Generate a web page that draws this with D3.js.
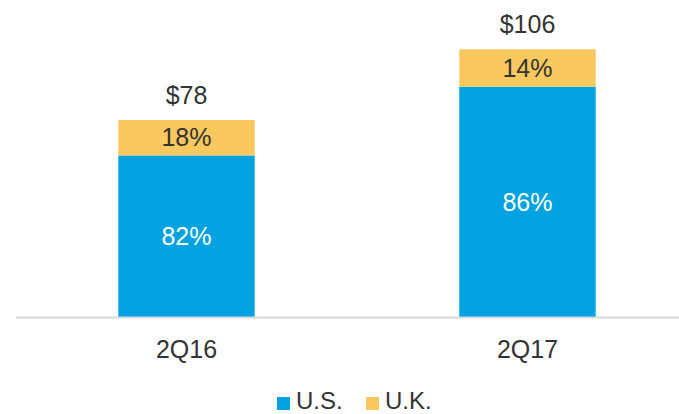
<!DOCTYPE html>
<html>
<head>
<meta charset="utf-8">
<script src="https://cdn.jsdelivr.net/npm/d3@7"></script>
<style>
  html, body { margin: 0; padding: 0; background: #fff; }
  svg { display: block; font-family: "Liberation Sans", Arial, sans-serif; }
</style>
</head>
<body>
<svg id="chart"></svg>
<script>
/* chart data */
const quarters = ["2Q16", "2Q17"];
const totals = [78, 106];
const usShare = [82, 86];
const ukShare = [18, 14];
const seriesNames = ["U.S.", "U.K."];
const colors = ["#00A3E0", "#F9C85E"];

const width = 679, height = 414;
const baseY = 317;

const svg = d3.select("#chart")
    .attr("width", width)
    .attr("height", height);

/* scales */
const x = d3.scaleBand()
    .domain(quarters)
    .range([16, 698])
    .paddingInner(0.6)
    .paddingOuter(0.3);

const y = d3.scaleLinear()
    .domain([0, 120])
    .range([baseY, baseY - 120 * 197 / 78]);

/* build stacked rows in dollars */
const rows = quarters.map((q, i) => ({
    quarter: q,
    "U.S.": totals[i] * usShare[i] / 100,
    "U.K.": totals[i] * ukShare[i] / 100,
    usPct: usShare[i],
    ukPct: ukShare[i],
    total: totals[i]
}));

const stacked = d3.stack().keys(seriesNames)(rows);

const layers = svg.selectAll("g.layer")
    .data(stacked)
    .join("g")
    .attr("class", "layer")
    .attr("fill", (d, i) => colors[i]);

layers.selectAll("rect")
    .data(d => d)
    .join("rect")
    .attr("x", d => x(d.data.quarter))
    .attr("width", x.bandwidth())
    .attr("y", d => y(d[1]))
    .attr("height", d => y(d[0]) - y(d[1]));

/* segment labels */
stacked.forEach((layer, li) => {
    svg.selectAll(null)
        .data(layer)
        .join("text")
        .attr("x", d => x(d.data.quarter) + x.bandwidth() / 2)
        .attr("y", d => (y(d[0]) + y(d[1])) / 2)
        .attr("dy", "0.35em")
        .attr("text-anchor", "middle")
        .attr("font-size", 25)
        .attr("fill", li === 0 ? "#ffffff" : "#333333")
        .text(d => (li === 0 ? d.data.usPct : d.data.ukPct) + "%");
});

/* totals above bars */
svg.selectAll("text.total")
    .data(rows)
    .join("text")
    .attr("class", "total")
    .attr("x", d => x(d.quarter) + x.bandwidth() / 2)
    .attr("y", d => y(d.total) - 16)
    .attr("text-anchor", "middle")
    .attr("font-size", 25)
    .attr("fill", "#333333")
    .text(d => "$" + d.total);

/* baseline + category axis */
svg.append("line")
    .attr("x1", 16)
    .attr("x2", 698)
    .attr("y1", baseY + 0.5)
    .attr("y2", baseY + 0.5)
    .attr("stroke", "#d9d9d9")
    .attr("stroke-width", 2);

const xAxis = svg.append("g")
    .attr("transform", `translate(0, ${baseY})`)
    .call(d3.axisBottom(x).tickSize(0).tickPadding(0));
xAxis.select(".domain").remove();
xAxis.selectAll("text")
    .attr("y", 41)
    .attr("dy", 0)
    .attr("font-size", 25)
    .attr("font-family", "Liberation Sans, Arial, sans-serif")
    .attr("fill", "#333333");

/* legend */
const legendX = [277, 366];
const legend = svg.append("g");
seriesNames.forEach((name, i) => {
    legend.append("rect")
        .attr("x", legendX[i])
        .attr("y", 397)
        .attr("width", 13)
        .attr("height", 13)
        .attr("fill", colors[i]);
    legend.append("text")
        .attr("x", legendX[i] + 19)
        .attr("y", 409)
        .attr("font-size", 24)
        .attr("fill", "#333333")
        .text(name);
});
</script>
</body>
</html>
